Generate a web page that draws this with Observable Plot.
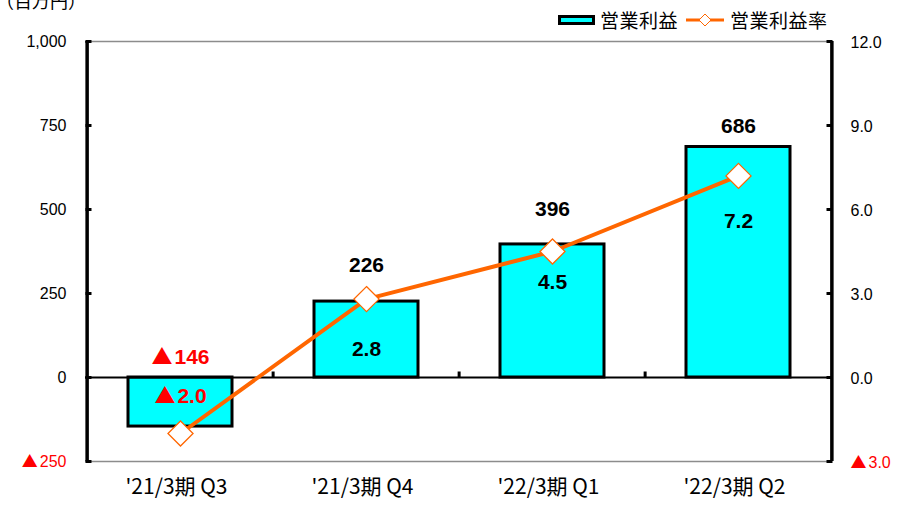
<!DOCTYPE html>
<html><head><meta charset="utf-8">
<script src="https://cdn.jsdelivr.net/npm/d3@7"></script>
<script src="https://cdn.jsdelivr.net/npm/@observablehq/plot@0.6"></script>
<style>
body{margin:0;background:#fff;}
#wrap{position:relative;width:898px;height:505px;overflow:hidden;font-family:"Liberation Sans",Arial,sans-serif;}
#wrap svg{position:absolute;left:0;top:0;}
#unit{position:absolute;left:-4px;top:-13px;font:18px "Noto Sans CJK JP";color:#000;z-index:2;}
#legend{position:absolute;left:558px;top:6px;display:flex;align-items:center;font:19px "Noto Sans CJK JP";letter-spacing:0.5px;color:#000;z-index:2;white-space:nowrap;}
#legend .sw1{width:31px;height:4px;background:#00FFFF;border:3px solid #000;margin-right:5px;}
#legend .t1{margin-right:8px;}
#legend svg{position:static;margin-right:6px;}
</style></head><body>
<div id="wrap"><div id="unit">（百万円）</div><div id="legend"></div></div>
<script>
// ---- data ----
const categories = ["'21/3期 Q3", "'21/3期 Q4", "'22/3期 Q1", "'22/3期 Q2"];
const operatingProfit = [-146, 226, 396, 686];      // 営業利益 (百万円)
const operatingMargin = [-2.0, 2.8, 4.5, 7.2];      // 営業利益率 (%)
const leftTicks = [-250, 0, 250, 500, 750, 1000];
const rightTicks = [-3, 0, 3, 6, 9, 12];
const legendLabels = ["営業利益", "営業利益率"];
const unitLabel = "（百万円）";

// ---- style / layout ----
const W = 898, H = 505, mL = 85, mR = 66, mT = 41, mB = 44;
const yDomain = [-250, 1000];
const rateDomain = [-3, 12];
const k = (yDomain[1] - yDomain[0]) / (rateDomain[1] - rateDomain[0]); // rate -> left units
const pxPerUnit = (H - mT - mB) / (yDomain[1] - yDomain[0]);
const step = (W - mL - mR) / categories.length;
const valueLabelLift = [20, 36, 35, 21];   // px above bar top
const rateLabelDrop = [-37, 50, 31, 45];   // px below marker
const RED = "#FF0000", ORANGE = "#FF6600", CYAN = "#00FFFF";
const NUMFONT = "'Liberation Sans', Arial, sans-serif";

const fmtNeg = (v, dec) => (v < 0 ? "▲" : "") + (dec ? Math.abs(v).toFixed(dec) : d3.format(",")(Math.abs(v)));

const data = categories.map((c, i) => ({cat: c, profit: operatingProfit[i], rate: operatingMargin[i], i}));

const tickRight = {draw(ctx) { ctx.moveTo(0, 0); ctx.lineTo(6, 0); }};
const tickLeft = {draw(ctx) { ctx.moveTo(0, 0); ctx.lineTo(-6, 0); }};
const tickUp = {draw(ctx) { ctx.moveTo(0, 0); ctx.lineTo(0, -6); }};

const chart = Plot.plot({
  width: W, height: H,
  marginLeft: mL, marginRight: mR, marginTop: mT, marginBottom: mB,
  style: {fontFamily: NUMFONT, background: "transparent", overflow: "visible"},
  x: {domain: categories, padding: 0, axis: null},
  y: {domain: yDomain, axis: null},
  color: {type: "identity"},
  marks: [
    Plot.ruleY([yDomain[0], yDomain[1]], {stroke: "#8c8c8c", strokeWidth: 1.5}),
    Plot.barY(data, {x: "cat", y: "profit", fill: CYAN, stroke: "#000", strokeWidth: 3, insetLeft: 41, insetRight: 41}),
    Plot.ruleY([0], {stroke: "#000", strokeWidth: 2}),
    Plot.dot(categories.slice(1), {x: d => d, y: 0, dx: -step / 2, symbol: tickUp, stroke: "#000", strokeWidth: 3, r: 3}),
    Plot.ruleX([categories[0]], {x: d => d, dx: -step / 2, stroke: "#000", strokeWidth: 3.5}),
    Plot.ruleX([categories[categories.length - 1]], {x: d => d, dx: step / 2, stroke: "#000", strokeWidth: 3.5}),
    Plot.dot(leftTicks, {frameAnchor: "left", y: d => d, symbol: tickRight, stroke: "#000", strokeWidth: 3, r: 3}),
    Plot.dot(rightTicks, {frameAnchor: "right", y: d => d * k, symbol: tickLeft, stroke: "#000", strokeWidth: 3, r: 3}),
    Plot.text(leftTicks, {frameAnchor: "left", y: d => d, dx: -19, textAnchor: "end", text: d => fmtNeg(d, 0),
      fill: d => d < 0 ? RED : "#000", fontSize: 16, letterSpacing: 1}),
    Plot.text(rightTicks, {frameAnchor: "right", y: d => d * k, dx: 18, dy: 1, textAnchor: "start", text: d => fmtNeg(d, 1),
      fill: d => d < 0 ? RED : "#000", fontSize: 16, letterSpacing: 1}),
    Plot.text(categories, {x: d => d, frameAnchor: "bottom", dy: 32, dx: -4, text: d => d, fontSize: 21,
      fontFamily: "'Noto Sans CJK JP'", letterSpacing: 4.5, fill: "#000"}),
    Plot.line(data, {x: "cat", y: d => d.rate * k, stroke: ORANGE, strokeWidth: 4}),
    Plot.dot(data, {x: "cat", y: d => d.rate * k, symbol: "diamond2", r: 11.3, fill: "#fff", stroke: ORANGE, strokeWidth: 1.3}),
    Plot.text(data, {x: "cat", y: d => Math.max(d.profit, 0) + valueLabelLift[d.i] / pxPerUnit, text: d => fmtNeg(d.profit, 0),
      fill: d => d.profit < 0 ? RED : "#000", fontSize: 21, fontWeight: "bold", letterSpacing: 1.5}),
    Plot.text(data, {x: "cat", y: d => d.rate * k - rateLabelDrop[d.i] / pxPerUnit, text: d => fmtNeg(d.rate, 1),
      fill: d => d.rate < 0 ? RED : "#000", fontSize: 21, fontWeight: "bold", letterSpacing: 1.5})
  ]
});
// render the ▲ sign with a full-width CJK glyph, like the original
chart.querySelectorAll("text").forEach(t => {
  const s = t.textContent;
  if (s.startsWith("▲") && t.children.length === 0) {
    const rest = s.slice(1);
    t.textContent = "";
    const ns = "http://www.w3.org/2000/svg";
    const tri = document.createElementNS(ns, "tspan");
    tri.setAttribute("font-family", "'Noto Sans CJK JP'");
    tri.setAttribute("font-weight", "normal");
    tri.setAttribute("letter-spacing", "2");
    tri.textContent = "▲";
    t.appendChild(tri);
    const r = document.createElementNS(ns, "tspan");
    r.textContent = rest;
    t.appendChild(r);
  }
});
document.getElementById("wrap").appendChild(chart);
document.getElementById("unit").textContent = unitLabel;
document.getElementById("legend").innerHTML =
  `<div class="sw1"></div><span class="t1">${legendLabels[0]}</span>` +
  `<svg width="38" height="14"><line x1="0" y1="7" x2="38" y2="7" stroke="${ORANGE}" stroke-width="3"/>` +
  `<path d="M19,1L25,7L19,13L13,7Z" fill="#fff" stroke="${ORANGE}" stroke-width="1"/></svg>` +
  `<span>${legendLabels[1]}</span>`;
</script>
</body></html>
